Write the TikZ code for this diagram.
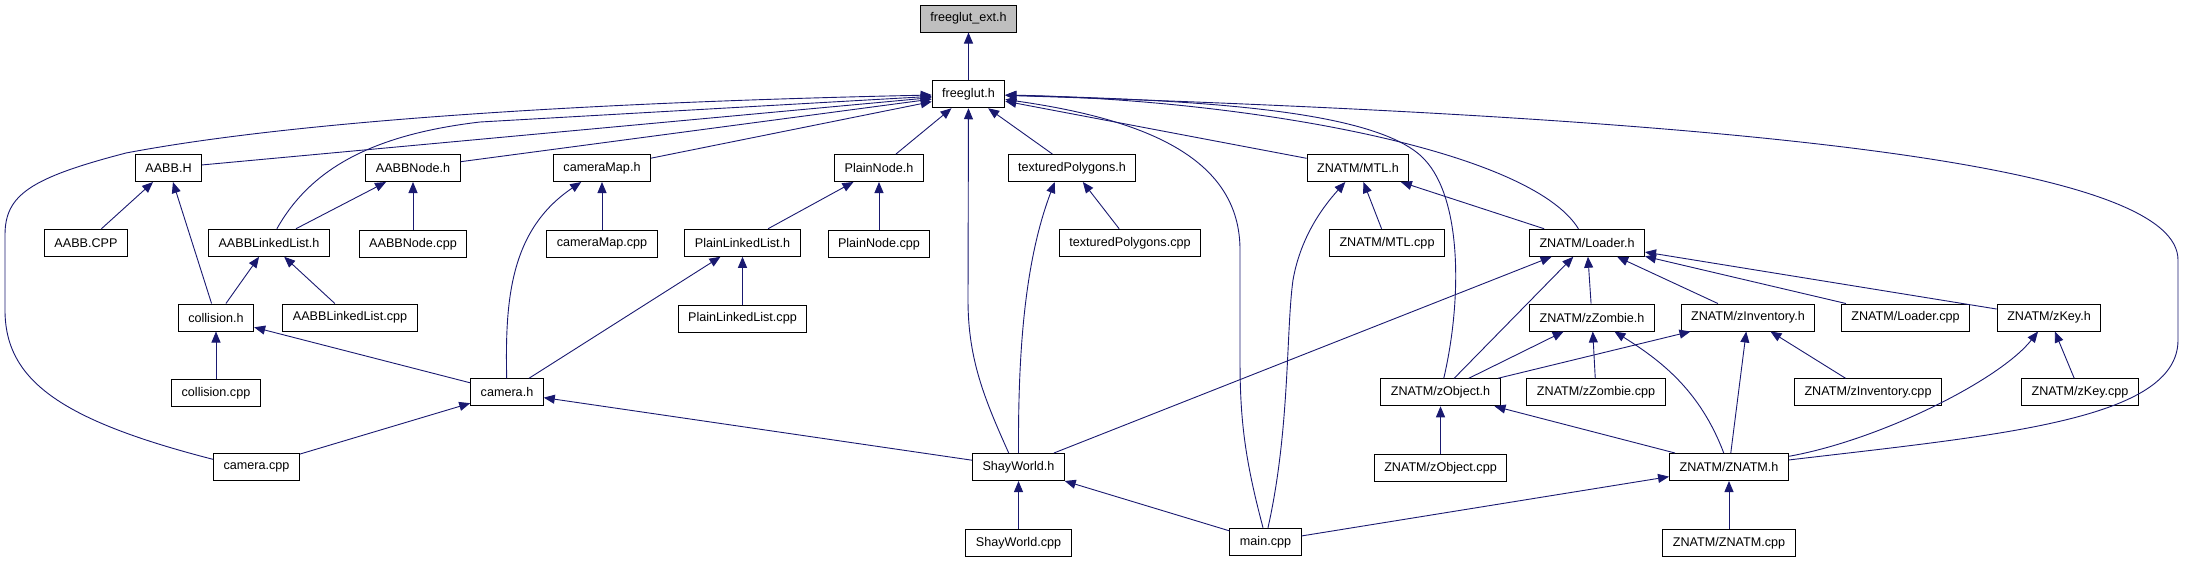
\documentclass[tikz,border=0pt]{standalone}
\usepackage{fontspec}
\setmainfont{Liberation Sans}
\usepackage{tikz}
\usetikzlibrary{arrows.meta, positioning}
\definecolor{incblue}{RGB}{25,25,112}
\definecolor{hdrgray}{RGB}{191,191,191}
\newcommand{\graphfont}{\fontsize{12.6}{15}\selectfont}
\tikzset{
  hfile/.style={rectangle, draw=black, fill=white, minimum height=27pt,
    inner xsep=10pt, font=\graphfont, line width=1pt},
  rootfile/.style={hfile, fill=hdrgray},
  incl/.style={-{Triangle[length=11pt, width=9pt]}, color=incblue, line width=0.9pt}
}

\begin{document}
\begin{tikzpicture}[x=1pt, y=-1pt]
  \useasboundingbox (0,0) rectangle (2187,560);

  % Top of the chain
  \node[rootfile] (fext) at (968.5,18.5) {freeglut\_ext.h};
  \node[hfile, below=47.75pt of fext] (fglut) {freeglut.h};

  % Headers that include freeglut.h
  \node[hfile] (aabbh) at (168.5,168) {AABB.H};
  \node[hfile] (aabbnodeh) at (413,168) {AABBNode.h};
  \node[hfile] (cammaph) at (602,168) {cameraMap.h};
  \node[hfile] (plainnodeh) at (879,168) {PlainNode.h};
  \node[hfile] (texpolyh) at (1072,168) {texturedPolygons.h};
  \node[hfile] (mtlh) at (1358,168) {ZNATM/MTL.h};

  % Third row
  \node[hfile] (aabbcpp) at (86,242.75) {AABB.CPP};
  \node[hfile] (aabbllh) at (269,242.75) {AABBLinkedList.h};
  \node[hfile, below=47.75pt of aabbnodeh] (aabbnodecpp) {AABBNode.cpp};
  \node[hfile, below=47.75pt of cammaph] (cammapcpp) {cameraMap.cpp};
  \node[hfile] (plainllh) at (742.5,242.75) {PlainLinkedList.h};
  \node[hfile, below=47.75pt of plainnodeh] (plainnodecpp) {PlainNode.cpp};
  \node[hfile] (texpolycpp) at (1130,242.75) {texturedPolygons.cpp};
  \node[hfile] (mtlcpp) at (1387,242.75) {ZNATM/MTL.cpp};
  \node[hfile] (loaderh) at (1587,242.75) {ZNATM/Loader.h};

  % Fourth row
  \node[hfile] (collh) at (216,317.5) {collision.h};
  \node[hfile] (aabbllcpp) at (350,317.5) {AABBLinkedList.cpp};
  \node[hfile, below=47.75pt of plainllh] (plainllcpp) {PlainLinkedList.cpp};
  \node[hfile] (zombieh) at (1592,317.5) {ZNATM/zZombie.h};
  \node[hfile] (invh) at (1748,317.5) {ZNATM/zInventory.h};
  \node[hfile] (loadercpp) at (1905.5,317.5) {ZNATM/Loader.cpp};
  \node[hfile] (keyh) at (2049,317.5) {ZNATM/zKey.h};

  % Fifth row
  \node[hfile, below=47.75pt of collh] (collcpp) {collision.cpp};
  \node[hfile] (camh) at (507,392.25) {camera.h};
  \node[hfile] (objh) at (1440.5,392.25) {ZNATM/zObject.h};
  \node[hfile] (zombiecpp) at (1596,392.25) {ZNATM/zZombie.cpp};
  \node[hfile] (invcpp) at (1868,392.25) {ZNATM/zInventory.cpp};
  \node[hfile] (keycpp) at (2080,392.25) {ZNATM/zKey.cpp};

  % Bottom rows
  \node[hfile] (camcpp) at (256.5,467) {camera.cpp};
  \node[hfile] (shayh) at (1018.5,467) {ShayWorld.h};
  \node[hfile, below=47.75pt of objh] (objcpp) {ZNATM/zObject.cpp};
  \node[hfile] (znatmh) at (1729,467) {ZNATM/ZNATM.h};
  \node[hfile, below=47.75pt of shayh] (shaycpp) {ShayWorld.cpp};
  \node[hfile] (maincpp) at (1265.5,541.75) {main.cpp};
  \node[hfile, below=47.75pt of znatmh] (znatmcpp) {ZNATM/ZNATM.cpp};

  % Includes of freeglut
  \draw[incl] (fglut) -- (fext);
  \draw[incl] (aabbh) -- (fglut);
  \draw[incl] (aabbnodeh) -- (fglut);
  \draw[incl] (cammaph) -- (fglut);
  \draw[incl] (plainnodeh) -- (fglut);
  \draw[incl] (texpolyh) -- (fglut);
  \draw[incl] (mtlh) -- (fglut);
  \draw[incl] (aabbllh) .. controls (310,170) and (370,135) .. (480,122) -- (fglut);
  \draw[incl] (camcpp.170) .. controls (60,420) and (5,380) .. (5,310) -- (5,235)
    .. controls (5,195) and (30,178) .. (126,153) .. controls (300,120) and (600,102) .. (fglut);
  \draw[incl] (shayh.125) .. controls (985,400) and (968,360) .. (968,300) -- (fglut);
  \draw[incl] (maincpp.100) .. controls (1245,460) and (1240,420) .. (1240,360) -- (1240,250)
    .. controls (1240,160) and (1150,120) .. (fglut);
  \draw[incl] (objh) .. controls (1462,300) and (1462,200) .. (1425,160)
    .. controls (1380,110) and (1200,100) .. (fglut);
  \draw[incl] (loaderh) .. controls (1530,150) and (1250,100) .. (fglut);
  \draw[incl] (znatmh) .. controls (2000,435) and (2178,420) .. (2178,340) -- (2178,260)
    .. controls (2178,170) and (1800,120) .. (fglut);

  % Second level
  \draw[incl] (aabbcpp) -- (aabbh);
  \draw[incl] (collh) -- (aabbh);
  \draw[incl] (aabbllh) -- (aabbnodeh);
  \draw[incl] (aabbnodecpp) -- (aabbnodeh);
  \draw[incl] (camh) .. controls (505,300) and (510,230) .. (cammaph);
  \draw[incl] (cammapcpp) -- (cammaph);
  \draw[incl] (plainllh) -- (plainnodeh);
  \draw[incl] (plainnodecpp) -- (plainnodeh);
  \draw[incl] (shayh.north) .. controls (1018,350) and (1025,260) .. (texpolyh.219);
  \draw[incl] (texpolycpp) -- (texpolyh);
  \draw[incl] (maincpp.80) .. controls (1290,430) and (1286,330) .. (1293,280)
    .. controls (1300,240) and (1320,210) .. (mtlh);
  \draw[incl] (mtlcpp) -- (mtlh);
  \draw[incl] (loaderh) -- (mtlh);

  % Third level
  \draw[incl] (collh) -- (aabbllh);
  \draw[incl] (aabbllcpp) -- (aabbllh);
  \draw[incl] (camh) -- (plainllh);
  \draw[incl] (plainllcpp) -- (plainllh);
  \draw[incl] (shayh) -- (loaderh);
  \draw[incl] (objh) -- (loaderh);
  \draw[incl] (zombieh) -- (loaderh);
  \draw[incl] (invh) -- (loaderh);
  \draw[incl] (loadercpp) -- (loaderh);
  \draw[incl] (keyh) -- (loaderh);

  % Lower levels
  \draw[incl] (collcpp) -- (collh);
  \draw[incl] (camh) -- (collh);
  \draw[incl] (camcpp) -- (camh);
  \draw[incl] (shayh) -- (camh);
  \draw[incl] (objh) -- (zombieh);
  \draw[incl] (zombiecpp) -- (zombieh);
  \draw[incl] (znatmh) .. controls (1700,390) and (1660,360) .. (zombieh);
  \draw[incl] (objh) -- (invh);
  \draw[incl] (znatmh) -- (invh);
  \draw[incl] (invcpp) -- (invh);
  \draw[incl] (znatmh) .. controls (1880,440) and (2000,380) .. (keyh);
  \draw[incl] (keycpp) -- (keyh);
  \draw[incl] (objcpp) -- (objh);
  \draw[incl] (znatmh) -- (objh);
  \draw[incl] (shaycpp) -- (shayh);
  \draw[incl] (maincpp) -- (shayh);
  \draw[incl] (maincpp) -- (znatmh);
  \draw[incl] (znatmcpp) -- (znatmh);
\end{tikzpicture}
\end{document}
